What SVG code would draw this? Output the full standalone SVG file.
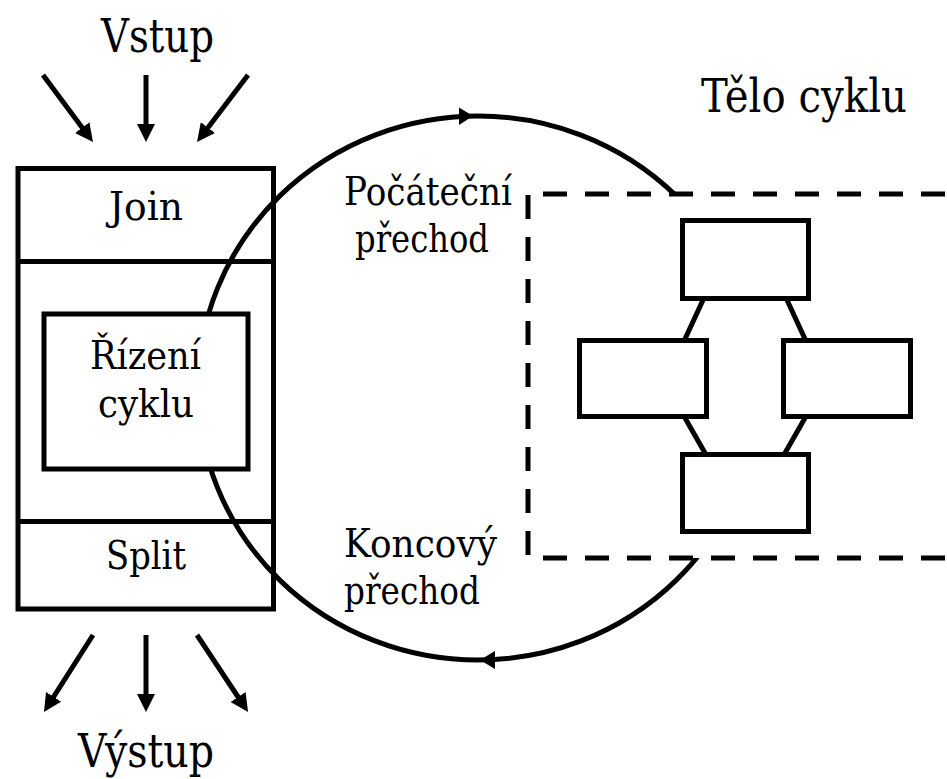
<svg xmlns="http://www.w3.org/2000/svg" width="947" height="779" viewBox="0 0 947 779">
  <style>
    .ln { fill: none; stroke: #000; stroke-width: 5; }
    .box { fill: #fff; stroke: #000; stroke-width: 5; }
    .dash { fill: none; stroke: #000; stroke-width: 5; stroke-dasharray: 24 18; }
    .t { fill: #000; font-family: "DejaVu Serif", "Liberation Serif", serif; }
    .big { font-size: 46px; }
    .lbl { font-size: 39px; }
  </style>
  <defs>
    <marker id="head" viewBox="0 0 18 18" refX="6" refY="9" markerWidth="18" markerHeight="18" markerUnits="userSpaceOnUse" orient="auto">
      <path d="M0,0 L18,9 L0,18 Z" fill="#000"/>
    </marker>
  </defs>
  <rect width="947" height="779" fill="#fff"/>

  <!-- connectors -->
  <g id="connectors">
    <!-- loop around the body -->
    <ellipse class="ln" cx="478" cy="388" rx="280" ry="272"/>
    <polygon points="473,116 459,107.5 459,125" fill="#000"/>
    <polygon points="480,660 495,651 495,669" fill="#000"/>
    <!-- inputs -->
    <line class="ln" x1="43" y1="75" x2="85.8" y2="132.4" marker-end="url(#head)"/>
    <line class="ln" x1="146" y1="75" x2="146" y2="130" marker-end="url(#head)"/>
    <line class="ln" x1="248" y1="75" x2="204.3" y2="132.4" marker-end="url(#head)"/>
    <!-- outputs -->
    <line class="ln" x1="93" y1="635" x2="50.4" y2="701.9" marker-end="url(#head)"/>
    <line class="ln" x1="146" y1="635" x2="146" y2="700" marker-end="url(#head)"/>
    <line class="ln" x1="197" y1="635" x2="241.4" y2="702" marker-end="url(#head)"/>
  </g>

  <!-- control block: join / loop control / split -->
  <g id="control">
    <rect class="ln" x="18" y="168.5" width="255.5" height="440.5"/>
    <line class="ln" x1="18" y1="261.5" x2="273.5" y2="261.5"/>
    <line class="ln" x1="18" y1="521.5" x2="273.5" y2="521.5"/>
    <text class="t lbl" x="109" y="220" textLength="74" lengthAdjust="spacingAndGlyphs">Join</text>
    <text class="t lbl" x="106" y="569" textLength="80" lengthAdjust="spacingAndGlyphs">Split</text>
  </g>
  <g id="loop-control">
    <rect class="box" x="44" y="314" width="204" height="155"/>
    <text class="t lbl" x="90" y="369" textLength="111" lengthAdjust="spacingAndGlyphs">Řízení</text>
    <text class="t lbl" x="98" y="417" textLength="96" lengthAdjust="spacingAndGlyphs">cyklu</text>
  </g>

  <!-- loop body -->
  <g id="body">
    <rect x="528" y="194" width="430" height="364" fill="#fff"/>
    <line class="dash" x1="543" y1="194" x2="960" y2="194"/>
    <line class="dash" x1="543" y1="558" x2="960" y2="558"/>
    <line class="dash" x1="528" y1="195" x2="528" y2="556"/>
    <line class="ln" x1="703" y1="300" x2="685" y2="339"/>
    <line class="ln" x1="787" y1="300" x2="805" y2="339"/>
    <line class="ln" x1="685" y1="418" x2="705" y2="453"/>
    <line class="ln" x1="805" y1="418" x2="785" y2="453"/>
  </g>
  <g id="step-top"><rect class="box" x="682.5" y="220.5" width="126" height="78"/></g>
  <g id="step-left"><rect class="box" x="579.5" y="340.5" width="127" height="76"/></g>
  <g id="step-right"><rect class="box" x="783.5" y="340.5" width="127" height="76"/></g>
  <g id="step-bottom"><rect class="box" x="682.5" y="454.5" width="126" height="77"/></g>

  <!-- labels -->
  <g id="labels">
    <text class="t big" x="101" y="52" textLength="113" lengthAdjust="spacingAndGlyphs">Vstup</text>
    <text class="t big" x="78" y="767" textLength="136" lengthAdjust="spacingAndGlyphs">Výstup</text>
    <text class="t big" x="701" y="112" textLength="206" lengthAdjust="spacingAndGlyphs">Tělo cyklu</text>
    <text class="t lbl" x="344" y="205" textLength="168" lengthAdjust="spacingAndGlyphs">Počáteční</text>
    <text class="t lbl" x="355" y="252" textLength="134" lengthAdjust="spacingAndGlyphs">přechod</text>
    <text class="t lbl" x="344" y="557" textLength="153" lengthAdjust="spacingAndGlyphs">Koncový</text>
    <text class="t lbl" x="344" y="604" textLength="136" lengthAdjust="spacingAndGlyphs">přechod</text>
  </g>
</svg>
